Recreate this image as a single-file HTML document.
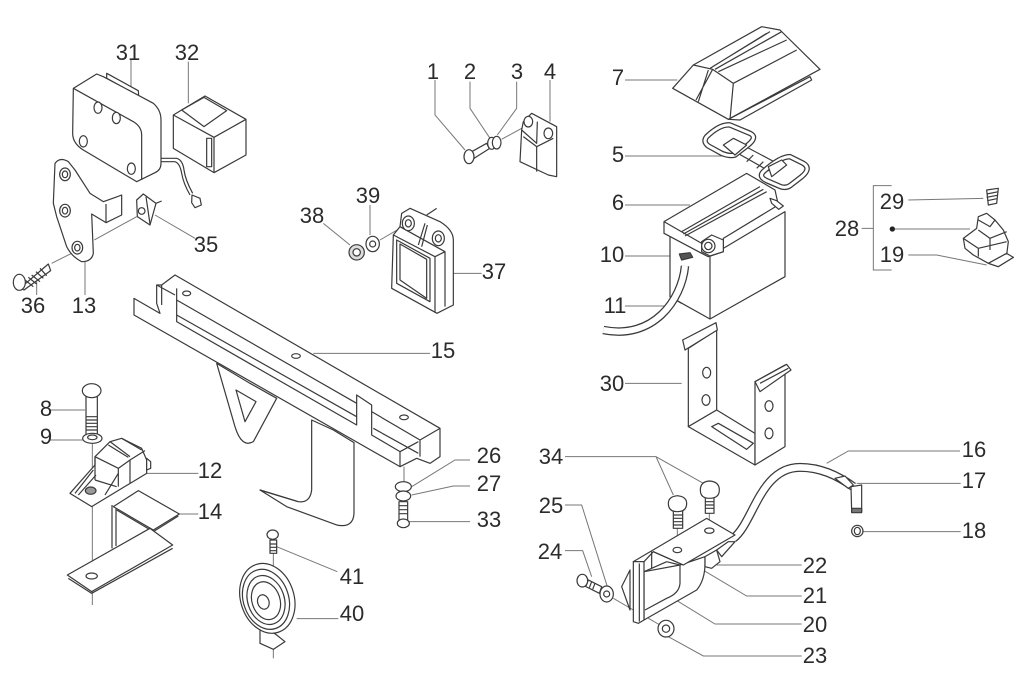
<!DOCTYPE html>
<html><head><meta charset="utf-8"><style>
html,body{margin:0;padding:0;background:#fff}
svg{display:block;filter:blur(.35px)}
.z *{vector-effect:non-scaling-stroke}
.p *,.p{fill:#fff;stroke:#3a3a3a;stroke-width:1.2;stroke-linejoin:round}
.n,.p .n{fill:none!important}
.l *,.l{fill:none;stroke:#777;stroke-width:1}
text{font-family:"Liberation Sans",sans-serif;font-size:22px;fill:#2b2b2b;text-anchor:middle;stroke:none}
</style></head><body>
<svg width="1024" height="699" viewBox="0 0 1024 699" xmlns="http://www.w3.org/2000/svg">
<rect width="1024" height="699" fill="#fff"/>

<!-- zoom1 region -->
<g class="z" transform="translate(0,20) scale(.33333)">
 <g class="l">
  <path d="M393 120V200M565 125V250M465 585L585 655M255 725V825M110 785V825M155 730L215 700M283 660L410 590"/>
 </g>
 <g class="p">
  <path d="M320 160L415 212 416 228 320 175Z"/>
  <path d="M220 205L290 162 310 170 460 250Q483 270 483 300V430Q483 450 465 458L410 485 250 390Q218 370 218 340Z"/>
  <path class="n" d="M220 205L400 305Q425 320 425 345V480"/>
  <ellipse cx="294" cy="263" rx="12" ry="17"/><ellipse cx="349" cy="294" rx="12" ry="17"/><ellipse cx="250" cy="364" rx="12" ry="17"/><ellipse cx="394" cy="446" rx="12" ry="17"/>
  <path class="n" d="M483 415H530Q548 420 552 450T578 520"/><path class="n" d="M483 425H525Q540 430 545 460T570 525"/>
  <path d="M576 525L600 535 604 555 585 563 575 548Z"/>
  <path d="M520 285L615 228 738 298V405L642 458 520 385Z"/>
  <path class="n" d="M520 285L642 352 738 298M642 352V458M545 270L612 232 680 272 612 320Z"/>
  <path d="M620 355H635V440H620Z"/>
  <path d="M165 430Q180 410 205 425L225 450 270 520 310 545 352 530 365 525V585L318 608 275 582 280 700Q275 725 245 725 215 710 200 680L170 590 160 550Z"/>
  <path class="n" d="M318 552V606"/>
  <ellipse cx="195" cy="463" rx="16" ry="19"/><ellipse cx="195" cy="463" rx="8" ry="10"/>
  <ellipse cx="195" cy="572" rx="16" ry="19"/><ellipse cx="195" cy="572" rx="8" ry="10"/>
  <ellipse cx="232" cy="683" rx="16" ry="19"/><ellipse cx="232" cy="683" rx="8" ry="10"/>
  <path d="M410 540L430 522 468 550 450 615 412 590Z"/><path class="n" d="M438 530L450 612M468 550L485 543"/>
  <circle cx="425" cy="573" r="10"/>
  <path d="M60 805L145 732 152 752 72 810Z"/>
  <path class="n" d="M75 780L100 800M85 772L110 792M95 765L120 785M108 755L130 775M120 745L140 767"/>
  <ellipse cx="58" cy="787" rx="18" ry="24"/>
 </g>
</g>

<!-- top middle -->
<g class="z" transform="translate(290,50) scale(.33333)">
 <g class="l">
  <path d="M435 90V195L525 300M540 95V175L600 265M680 95V175L622 255M780 90V215M100 520L180 585M240 465V555M490 670H575M270 570L330 535M635 268L695 235"/>
 </g>
 <g class="p">
  <path d="M700 215L725 190 800 230V380L775 375 690 335 695 240Z"/>
  <path class="n" d="M700 260L740 290 790 265M740 290V365M695 240L740 280 742 215"/>
  <ellipse cx="715" cy="215" rx="13" ry="16"/><ellipse cx="775" cy="250" rx="13" ry="16"/>
  <path d="M545 305L590 280 598 296 552 325Z"/><ellipse cx="537" cy="320" rx="15" ry="21"/>
  <ellipse cx="605" cy="280" rx="12" ry="18"/><ellipse cx="620" cy="278" rx="13" ry="19"/>
  <path d="M335 490L360 475 450 515Q490 540 490 570V765L441 790 305 715 310 555 330 530Z"/>
  <path class="n" d="M310 555L435 620 465 605M330 530L465 605V770M435 620V788M320 570L420 625V755L320 700ZM330 582L410 628V745L330 690ZM410 495L440 475M385 585L405 520M395 590L412 525"/>
  <ellipse cx="355" cy="520" rx="18" ry="22"/><ellipse cx="355" cy="520" rx="9" ry="11"/>
  <ellipse cx="445" cy="565" rx="18" ry="22"/><ellipse cx="445" cy="565" rx="9" ry="11"/>
  <circle cx="200" cy="607" r="23" style="fill:#ddd"/><circle cx="200" cy="607" r="11"/>
  <ellipse cx="248" cy="582" rx="20" ry="23"/><circle cx="248" cy="582" r="9"/>
 </g>
</g>

<!-- battery top -->
<g class="z" transform="translate(590,20) scale(.33333)">
 <g class="l"><path d="M105 180H262M105 408H420M105 555H300M105 708H270M105 858H225"/></g>
 <g class="p">
  <path d="M450 300L665 180 660 170 415 298Z"/>
  <path d="M248 205L310 135 515 20 570 30 690 148 415 298Z"/>
  <path class="n" d="M310 135L368 148 430 190 620 90M430 190L420 298M368 148L318 240M355 150L325 245M360 145L530 40M368 140L540 35M375 148L575 35M385 155L590 60"/>
  <path class="n" d="M405 378L430 360 565 432 535 452Z"/>
  <path class="n" d="M450 385L430 405M490 405L470 425M520 425L500 445"/>
  <path class="n" d="M350 350Q390 312 420 315L480 340Q505 352 470 378L435 405Q420 410 395 400L355 378Q338 365 350 350Z" style="stroke-width:5.5"/>
  <path class="n" d="M350 350Q390 312 420 315L480 340Q505 352 470 378L435 405Q420 410 395 400L355 378Q338 365 350 350Z" style="stroke:#fff;stroke-width:3"/>
  <path d="M400 375L430 355 470 375 435 405Z"/>
  <path class="n" d="M520 455Q570 410 600 410L640 430Q665 445 635 470L600 497Q585 507 565 497L530 482Q505 470 520 455Z" style="stroke-width:5.5"/>
  <path class="n" d="M520 455Q570 410 600 410L640 430Q665 445 635 470L600 497Q585 507 565 497L530 482Q505 470 520 455Z" style="stroke:#fff;stroke-width:3"/>
  <path d="M535 440L575 420 590 435 545 470Z"/>
 </g>
</g>

<!-- battery, bracket 30, relay -->
<g class="z" transform="translate(590,170) scale(.33333)">
 <g class="l">
  <path d="M105 640H275M905 47H850V300H905M815 175H850M915 177H1140M955 90L1180 85M955 255H1040L1190 285M710 880L775 843H1110"/>
 </g>
 <g class="p">
  <path d="M240 200V380L360 447 585 320V125L400 235Z"/>
  <path class="n" d="M360 260V447M240 380L275 400"/>
  <path d="M222 155L470 10 555 60 565 105 400 205V245L355 260 335 250 222 190Z"/>
  <path class="n" d="M222 155L335 220M275 185L510 50M280 192L520 58M285 198L530 65"/>
  <path d="M335 215L365 195 400 210 400 245 360 258 335 245Z"/>
  <circle cx="355" cy="228" r="20"/><circle cx="355" cy="228" r="11"/>
  <path d="M540 85L560 92 580 108 566 118 545 100Z"/>
  <path d="M268 252L300 248 308 262 275 270Z" style="fill:#555"/>
  <path class="n" d="M285 288C275 390 190 510 40 480" style="stroke-width:8.5"/>
  <path class="n" d="M285 288C275 390 190 510 40 480" style="stroke:#fff;stroke-width:6"/>
  <path d="M295 535L380 480V720L295 770Z"/>
  <path d="M278 510L378 458 382 480 285 540Z"/>
  <ellipse cx="350" cy="608" rx="12" ry="16"/><ellipse cx="348" cy="690" rx="12" ry="16"/>
  <path d="M295 770L380 720 495 790V885Z"/>
  <path d="M365 770L385 760 490 820 470 838Z"/>
  <path d="M495 635L585 585V830L495 885Z"/>
  <path d="M495 635L590 583 603 600 510 665Z"/>
  <path class="n" d="M510 640L595 595"/>
  <ellipse cx="537" cy="708" rx="12" ry="16"/><ellipse cx="537" cy="790" rx="12" ry="16"/>
  <path d="M1190 60L1225 55 1220 100 1195 105Z"/>
  <path class="n" d="M1190 72L1225 65M1190 82L1222 76M1192 92L1220 86"/>
  <path d="M1120 205L1160 175 1165 140 1190 130 1215 150 1240 180 1255 215 1250 255 1270 262 1225 290 1195 280 1150 255 1125 235Z"/>
  <path class="n" d="M1165 180L1200 205 1250 185M1120 205L1165 235 1250 215M1165 235V260M1200 205V240M1165 150L1200 170 1215 150"/>
  <path d="M1195 280L1250 250 1270 262 1225 290Z"/>
 </g>
 <circle cx="907" cy="177" r="8" fill="#222" stroke="none"/>
</g>

<!-- frame, left-bottom group -->
<g class="z" transform="translate(50,260) scale(.33333)">
 <g class="l">
  <path d="M790 280H1140M290 640H445M385 762H445M680 860L862 935M740 1076H865M127 550V1035M0 450H105M0 540H100M1085 680L1215 600H1260M1085 705L1210 678H1260M1075 785H1260M1062 620V680M670 880V920M670 1168V1195"/>
 </g>
 <g class="p">
  <path d="M500 310L555 500Q575 565 610 545L680 415 600 370Z"/>
  <path d="M558 390L618 425 585 485Z"/>
  <path d="M785 480V690Q780 730 745 725L630 690 710 740 860 795Q910 805 912 760V548L850 510Z"/>
  <path class="n" d="M630 690L745 725"/>
  <path d="M375 45L1170 505V590L1140 610 1100 595 1050 620 252 165V115L330 160 320 130V75L335 75Z"/>
  <path class="n" d="M380 85V185L920 495V405L965 435V525L1050 575V620M380 120L920 430M380 165L920 470M965 455L1110 540 1170 505M970 505L1105 580M1110 540V590M1050 575L1105 545M335 75V135M320 75L375 105"/>
  <ellipse cx="410" cy="100" rx="12" ry="7"/><ellipse cx="738" cy="288" rx="13" ry="7"/><ellipse cx="1062" cy="472" rx="13" ry="7"/>
  <ellipse cx="1060" cy="680" rx="24" ry="15"/><ellipse cx="1060" cy="708" rx="22" ry="15"/>
  <path d="M1047 725H1073V780H1047Z"/><path class="n" d="M1047 737H1073M1047 749H1073M1047 761H1073"/>
  <ellipse cx="1060" cy="790" rx="18" ry="13"/>

  <path class="n" d="M186 735V865M198 742V858"/>
  <path d="M190 740L265 692 388 762 310 810Z"/>
  <path class="n" d="M200 750L310 815 385 768"/>
  <path d="M52 945L300 805 368 855 125 995Z"/>
  <path class="n" d="M55 955L125 1000 368 865"/>
  <ellipse cx="125" cy="948" rx="17" ry="9"/>
  <path d="M60 700L135 615V590L180 545 215 535 275 565 290 600 290 640 125 740Z"/>
  <path class="n" d="M135 590L205 625 240 600 285 572M180 545L240 590M215 535L275 570M205 625V680M240 600V670M135 590V660M135 660L200 680M75 700L130 630M85 705L138 645M205 640L165 705M175 555L235 592"/>
  <ellipse cx="122" cy="692" rx="16" ry="11" style="fill:#999"/>
  <path d="M290 595L302 605V625L290 630Z"/>
  <path d="M108 410H142V525H108Z"/><path class="n" d="M108 470H142M108 480H142M108 490H142M108 500H142M108 510H142"/>
  <ellipse cx="125" cy="392" rx="28" ry="21"/>
  <ellipse cx="127" cy="535" rx="29" ry="15"/><ellipse cx="127" cy="532" rx="14" ry="7"/>

  <path d="M660 840H680V880H660Z"/><path class="n" d="M660 852H680M660 862H680M660 872H680"/>
  <ellipse cx="668" cy="824" rx="17" ry="14"/>
  <path d="M630 1090V1150L670 1168 705 1145 680 1125Z"/>
  <ellipse cx="652" cy="1015" rx="80" ry="107" transform="rotate(-18 652 1015)"/>
  <ellipse cx="648" cy="1018" rx="68" ry="92" transform="rotate(-18 648 1018)"/>
  <ellipse cx="648" cy="1020" rx="55" ry="75" transform="rotate(-18 648 1020)"/>
  <ellipse cx="648" cy="1022" rx="42" ry="58" transform="rotate(-18 648 1022)"/>
  <ellipse cx="640" cy="1026" rx="17" ry="22" transform="rotate(-18 640 1026)"/>
 </g>
</g>

<!-- solenoid -->
<g class="z" transform="translate(520,430) scale(.33333)">
 <g class="l">
  <path d="M135 80H408L460 195M408 80L550 160M135 225H185L262 470M135 362H188L215 440M590 405H845M490 385L680 498H845M435 490L585 582H845M445 620L550 678H845M1010 160H1322M1030 305H1322M280 505L340 540M385 565L420 585M472 295V345M568 250V290"/>
 </g>
 <g class="p">
  <path class="n" d="M640 325C700 280 720 112 840 112 900 112 950 135 1000 170" style="stroke-width:9"/>
  <path class="n" d="M640 325C700 280 720 112 840 112 900 112 950 135 1000 170" style="stroke:#fff;stroke-width:6.5"/>
  <path d="M945 145L975 138 1000 165 985 175Z"/>
  <path d="M993 170L1025 165V245H995Z"/><path d="M995 235H1025V248H995Z" style="fill:#777"/>
  <ellipse cx="1012" cy="303" rx="17" ry="17"/><ellipse cx="1012" cy="303" rx="9" ry="11"/>
  <path d="M330 420L305 470 330 540Z"/>
  <path d="M372 570L530 480Q555 450 555 400V380L480 405 372 425Z"/>
  <path d="M340 395L560 265 645 315 490 405 400 365 372 395Z"/>
  <path d="M340 395L372 395V570L355 580 340 575Z"/>
  <path class="n" d="M358 400V575M395 365V415L440 395M372 425L395 415M400 365L490 405M480 405V460Q478 490 440 505L375 540M440 395L480 405"/>
  <path d="M555 380L590 360 600 395 575 415 555 410Z"/>
  <path d="M590 360L625 335 645 335 605 380Z"/>
  <ellipse cx="472" cy="360" rx="13" ry="8"/><ellipse cx="568" cy="302" rx="14" ry="8"/>
  <path d="M460 240H488V295H460Z"/><path class="n" d="M460 255H488M460 265H488M460 275H488M460 285H488"/>
  <path d="M445 220Q445 200 472 197 500 200 500 220 500 245 472 245 445 245 445 220Z"/>
  <path d="M556 200H582V250H556Z"/><path class="n" d="M556 215H582M556 225H582M556 235H582"/>
  <path d="M541 180Q541 155 568 153 598 155 598 180 598 205 568 205 541 205 541 180Z"/>
  <path d="M195 445L245 470 238 490 188 465Z"/><path class="n" d="M205 450L198 468M215 455L208 473M225 460L218 478"/>
  <ellipse cx="187" cy="452" rx="16" ry="19"/>
  <ellipse cx="260" cy="492" rx="20" ry="24"/><circle cx="260" cy="492" r="9"/>
  <ellipse cx="438" cy="596" rx="24" ry="25"/><circle cx="438" cy="596" r="11"/>
 </g>
</g>

<g>
 <text x="128" y="60">31</text><text x="187" y="60">32</text><text x="206" y="252">35</text><text x="33" y="313">36</text><text x="84" y="313">13</text>
 <text x="433" y="79">1</text><text x="470" y="79">2</text><text x="517" y="79">3</text><text x="550" y="79">4</text>
 <text x="312" y="223">38</text><text x="368" y="203">39</text><text x="494" y="279">37</text>
 <text x="618" y="85">7</text><text x="618" y="162">5</text><text x="618" y="210">6</text><text x="612" y="262">10</text><text x="615" y="313">11</text><text x="612" y="391">30</text>
 <text x="847" y="236">28</text><text x="892" y="209">29</text><text x="892" y="262">19</text>
 <text x="443" y="358">15</text><text x="210" y="478">12</text><text x="210" y="519">14</text><text x="352" y="584">41</text><text x="352" y="621">40</text>
 <text x="46" y="416">8</text><text x="46" y="444">9</text><text x="489" y="463">26</text><text x="489" y="491">27</text><text x="489" y="527">33</text>
 <text x="974" y="457">16</text><text x="974" y="488">17</text><text x="974" y="538">18</text>
 <text x="551" y="464">34</text><text x="551" y="513">25</text><text x="550" y="559">24</text>
 <text x="815" y="573">22</text><text x="815" y="603">21</text><text x="815" y="632">20</text><text x="815" y="663">23</text>
</g>
</svg>
</body></html>
